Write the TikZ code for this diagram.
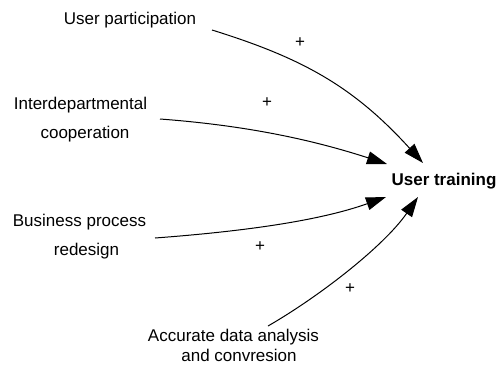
\documentclass[tikz,border=0pt]{standalone}
\usepackage{fontspec}
\setmainfont{Liberation Sans}
\usetikzlibrary{arrows.meta}
\tikzset{
  lbl/.style={inner sep=0pt, anchor=base, align=center, font=\fontsize{17bp}{29bp}\selectfont},
  sign/.style={inner sep=0pt, font=\fontsize{17bp}{20bp}\selectfont},
  link/.style={line width=1bp, -{Triangle[length=20bp,width=13bp]}},
}
\begin{document}
\begin{tikzpicture}[x=1bp,y=-1bp]
\useasboundingbox (0,0) rectangle (503,364);
% labels (base anchor = baseline of the last line)
\node[lbl] (up) at (130,24) {User participation};
\node[lbl] (ic) at (80.5,138) {Interdepartmental\\\hspace*{9bp}cooperation};
\node[lbl] (bp) at (79.5,255) {Business process\\\hspace*{14bp}redesign};
\node[lbl, font=\fontsize{17bp}{20bp}\selectfont] (ad) at (233.5,361.5) {Accurate data analysis\\\hspace*{11bp}and convresion};
\node[lbl, font=\fontsize{17bp}{20bp}\selectfont\bfseries] (ut) at (444,185) {User training};
% connector ends
\coordinate (s1) at (212,30);
\coordinate (s2) at (160,119);
\coordinate (s3) at (155,238);
\coordinate (s4) at (268,326);
\coordinate (t1) at (423,163);
\coordinate (t2) at (387,164);
\coordinate (t3) at (386,197);
\coordinate (t4) at (418,197);
% connectors
\draw[link] (s1) .. controls (302,58) and (353,86) .. (t1);
\draw[link] (s2) .. controls (240,125) and (307,138) .. (t2);
\draw[link] (s3) .. controls (235,232) and (316,222) .. (t3);
\draw[link] (s4) .. controls (320,296) and (384,246) .. (t4);
% signs
\node[sign] (p1) at (300,43) {+};
\node[sign] (p2) at (267,103) {+};
\node[sign] (p3) at (260,247) {+};
\node[sign] (p4) at (350,289) {+};
\end{tikzpicture}
\end{document}
